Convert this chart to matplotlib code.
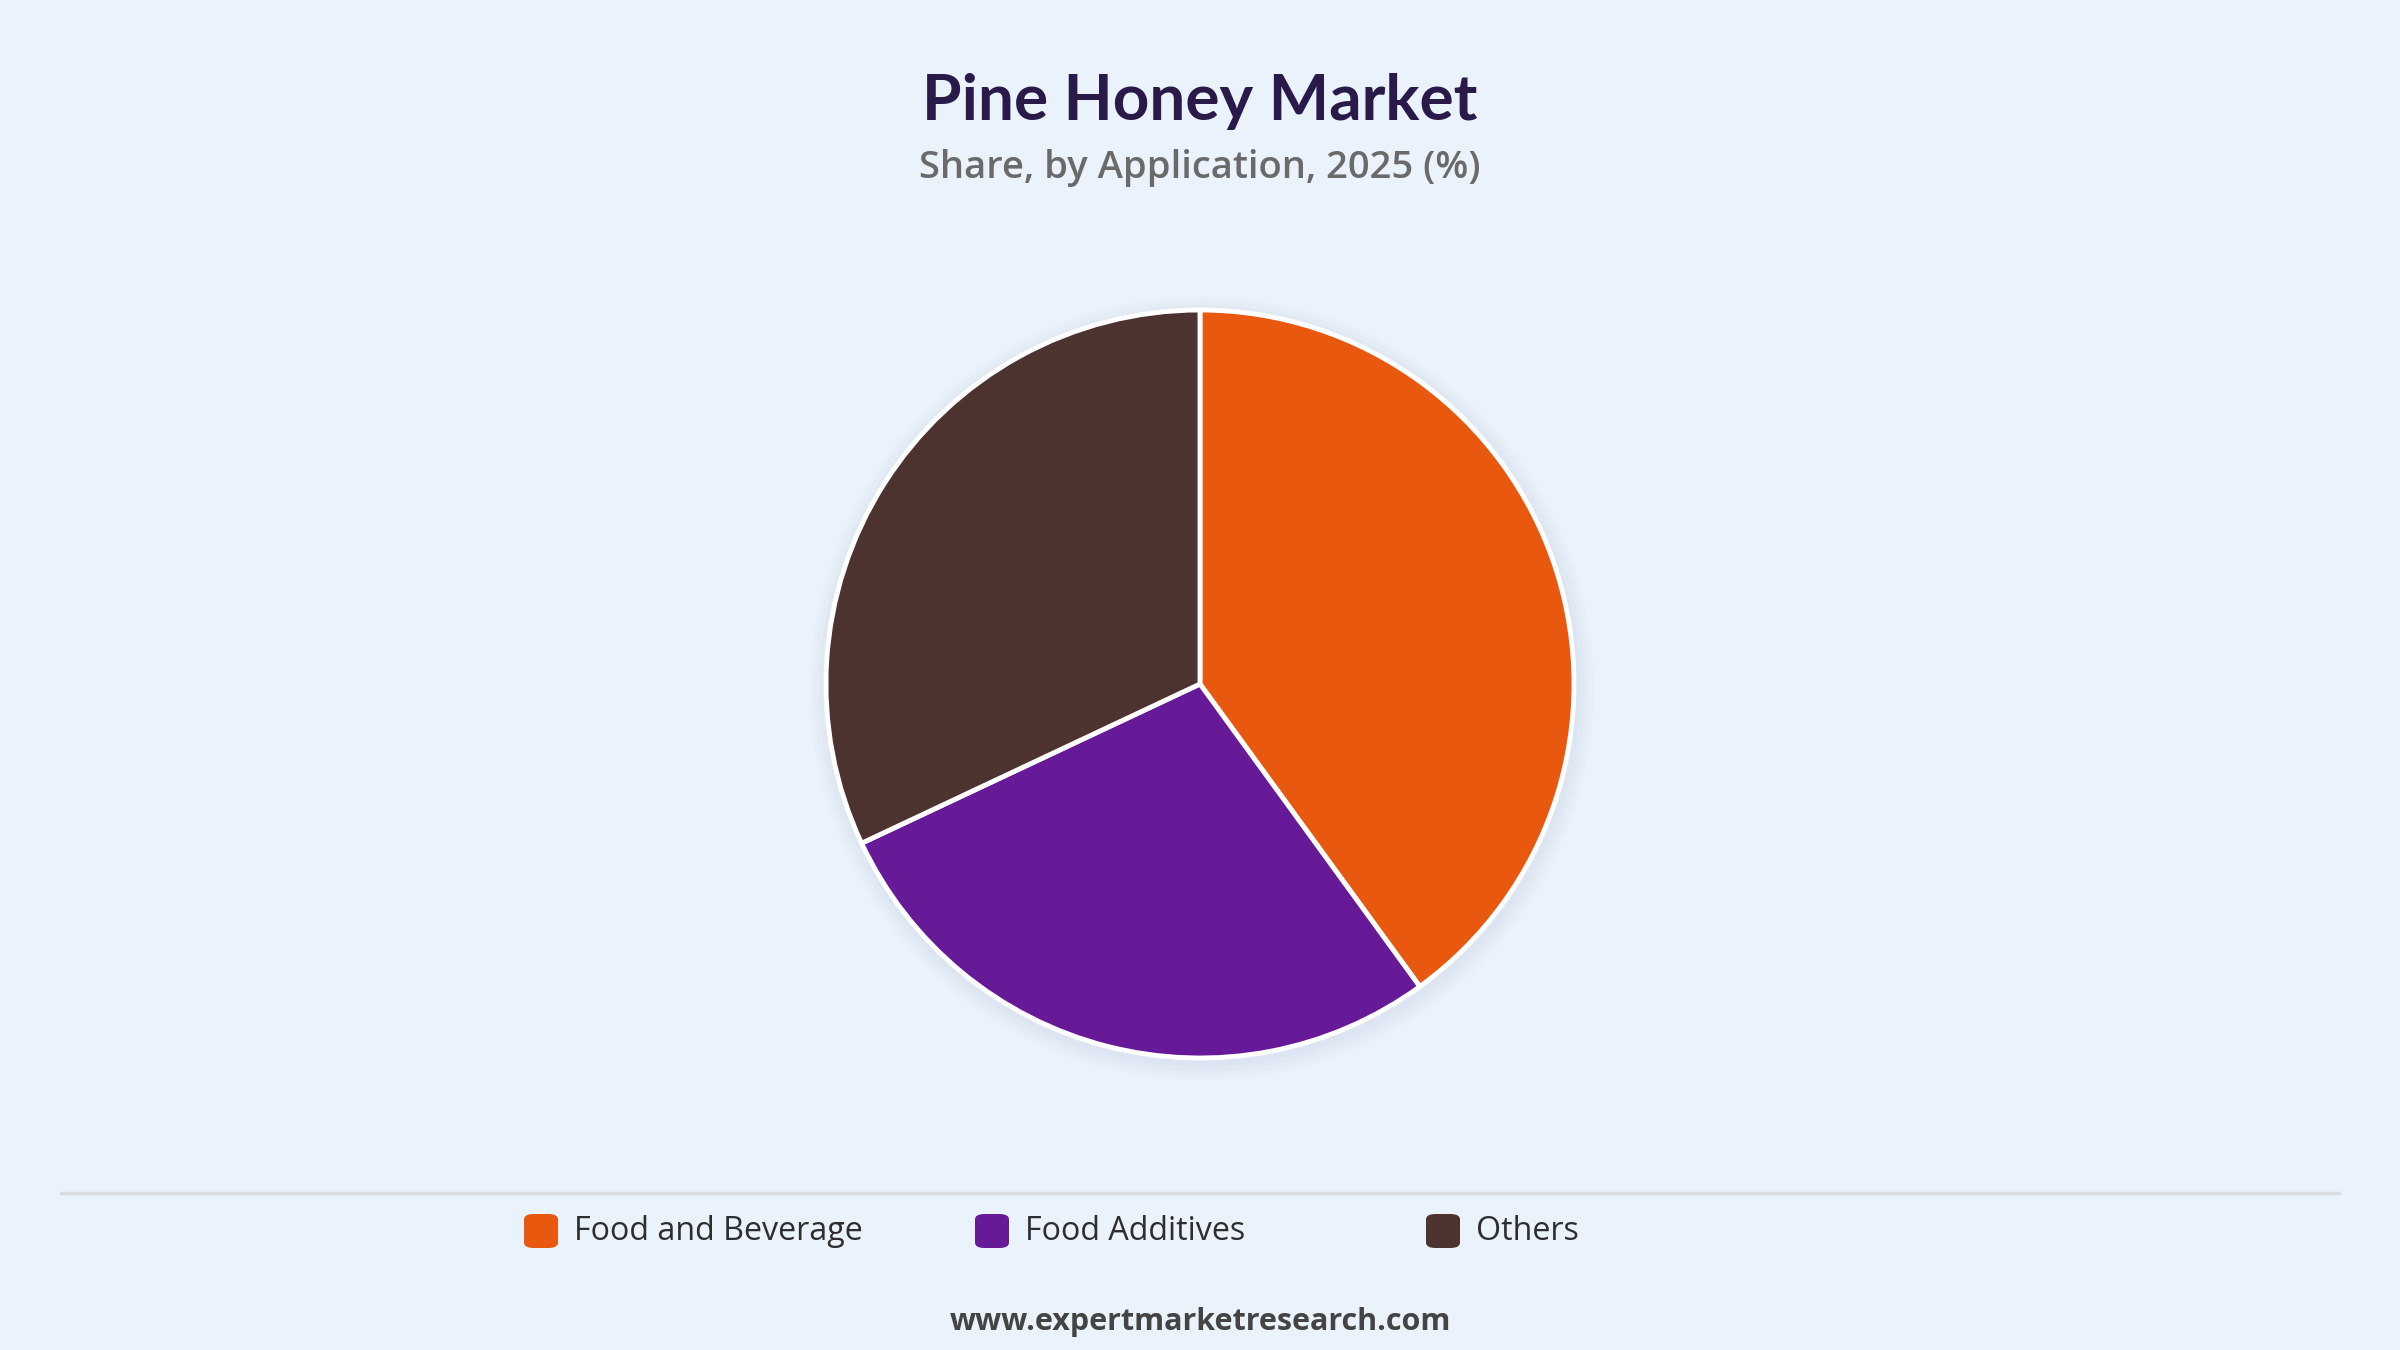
import matplotlib
matplotlib.use("Agg")
from matplotlib import pyplot as plt
from matplotlib.patches import FancyBboxPatch, Circle
from matplotlib.lines import Line2D

# values
categories = ["Food and Beverage", "Food Additives", "Others"]
shares = [40, 28, 32]
colors = ["#E8580F", "#671A98", "#4D3330"]

title = "Pine Honey Market"
subtitle = "Share, by Application, 2025 (%)"
footer = "www.expertmarketresearch.com"

bg = "#EAF2FB"
W, H = 2400, 1350

fig = plt.figure(figsize=(24, 13.5), dpi=100, facecolor=bg)

# pie axes: centre (1200, 684) px, radius 374 px
r = 374
cx, cy = 1200, 684
ax = fig.add_axes([(cx - r) / W, (H - cy - r) / H, 2 * r / W, 2 * r / H])
ax.set_facecolor(bg)
ax.axis("off")

# soft shadow behind the pie
for i, a in enumerate([0.05, 0.05, 0.04, 0.03]):
    ax.add_patch(Circle((0.005, -0.012), 1.0 + 0.012 * (i + 1), color="#9fb0c4",
                        alpha=a, zorder=0, lw=0, clip_on=False))

wedges, _ = ax.pie(shares, colors=colors, startangle=90, counterclock=False,
                   radius=1.0, frame=False,
                   wedgeprops=dict(edgecolor="white", linewidth=3.5))
for w in wedges:
    w.set_clip_on(False)
ax.set_xlim(-1.0, 1.0)
ax.set_ylim(-1.0, 1.0)
ax.set_aspect("equal")

fig.text(0.5, 1 - 102 / H, title, ha="center", va="center", fontsize=46,
         fontweight="bold", family=["Lato", "DejaVu Sans"], color="#2A1A4A")
fig.text(0.5, 1 - 168 / H, subtitle, ha="center", va="center", fontsize=27.5,
         fontweight="semibold", family=["Open Sans", "DejaVu Sans"], color="#6A6A6A")

# separator line
fig.add_artist(Line2D([61 / W, 2339 / W], [1 - 1193 / H, 1 - 1193 / H],
                      color="#D9DDE2", linewidth=2.5))

# legend, drawn by hand
leg_y = 1 - 1231 / H
msize = 34
for i, (name, col) in enumerate(zip(categories, colors)):
    x0 = 524 + i * 451
    fig.add_artist(FancyBboxPatch(((x0) / W, leg_y - msize / 2 / H),
                                  msize / W, msize / H,
                                  boxstyle="round,pad=0,rounding_size=0.004",
                                  transform=fig.transFigure, facecolor=col,
                                  edgecolor="none"))
    fig.text((x0 + 50) / W, leg_y, name, ha="left", va="center", fontsize=23.2,
             fontweight="medium", family=["Open Sans", "DejaVu Sans"],
             color="#2E2E2E")

fig.text(0.5, 1 - 1322 / H, footer, ha="center", va="center", fontsize=22,
         fontweight="bold", family=["Open Sans", "DejaVu Sans"], color="#444444")

fig.savefig("out.png", dpi=100, facecolor=bg)
